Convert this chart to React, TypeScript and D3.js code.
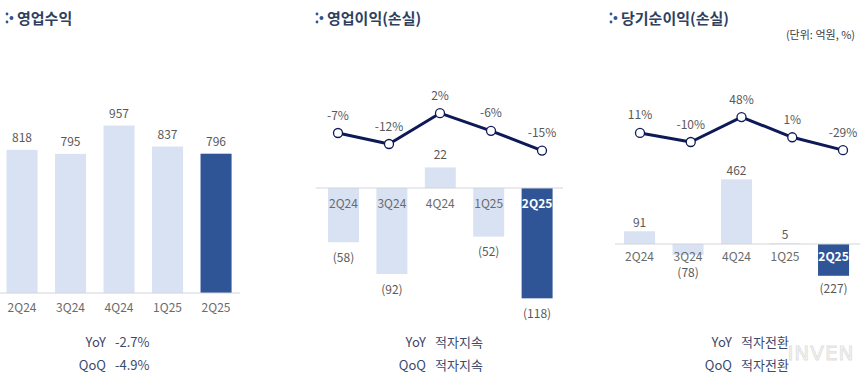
import React from "react";
import * as d3 from "d3";

const categories = ["2Q24", "3Q24", "4Q24", "1Q25", "2Q25"];
const revenue = [818, 795, 957, 837, 796];
const opIncome = [-58, -92, 22, -52, -118];
const opMargin = [-7, -12, 2, -6, -15];
const netIncome = [91, -78, 462, 5, -227];
const netMargin = [11, -10, 48, 1, -29];
const titles = ["영업수익", "영업이익(손실)", "당기순이익(손실)"];
const yoyLabels = ["-2.7%", "적자지속", "적자전환"];
const qoqLabels = ["-4.9%", "적자지속", "적자전환"];
const unitLabel = "(단위: 억원, %)";

const LIGHT = "#d9e2f3";
const DARK = "#2f5597";
const LINE = "#0e1a57";
const TXT = "#595959";
const TITLE = "#2f3f5f";
const SUB = "#3b4a6b";
const FONT = "'Noto Sans CJK KR', 'Noto Sans', sans-serif";

const fmt = (v: number) => (v < 0 ? `(${Math.abs(v)})` : `${v}`);

function Icon({ x, y }: { x: number; y: number }) {
  return (
    <g fill={DARK}>
      <circle cx={x} cy={y - 4} r={1.4} />
      <circle cx={x} cy={y + 4} r={1.4} />
      <circle cx={x + 4.5} cy={y} r={2} />
    </g>
  );
}

function Title({ x, text }: { x: number; text: string }) {
  return (
    <g>
      <Icon x={x - 10} y={18} />
      <text x={x} y={23.5} fontSize={15} fontWeight={700} fill={TITLE} fontFamily={FONT}>
        {text}
      </text>
    </g>
  );
}

function YoY({ x, yoy, qoq }: { x: number; yoy: string; qoq: string }) {
  return (
    <g fontFamily={FONT} fontSize={13} fill={SUB} fontWeight={400}>
      <text x={x} y={346.5} textAnchor="end">YoY</text>
      <text x={x + 9} y={346.5}>{yoy}</text>
      <text x={x} y={369.5} textAnchor="end">QoQ</text>
      <text x={x + 9} y={369.5}>{qoq}</text>
    </g>
  );
}

function BarPanel({
  values, range, yScale, lineRange, margins, lineScale, catInside, posOff, negOff, catBaseline, lineX,
}: any) {
  const x = d3.scaleBand().domain(categories).range(range).paddingInner(0.36).paddingOuter(0.18);
  const y0 = yScale(0);
  return (
    <g fontFamily={FONT}>
      {values.map((v: number, i: number) => {
        const c = categories[i];
        const top = Math.min(yScale(v), y0);
        const h = Math.abs(yScale(v) - y0);
        const last = i === values.length - 1;
        return (
          <rect key={c} x={x(c)} y={top} width={x.bandwidth()} height={h} fill={last ? DARK : LIGHT} />
        );
      })}
      <line x1={lineX[0]} x2={lineX[1]} y1={y0} y2={y0} stroke="#d0d4dc" strokeWidth={1} />
      {values.map((v: number, i: number) => {
        const c = categories[i];
        const cx = (x(c) as number) + x.bandwidth() / 2;
        const last = i === values.length - 1;
        const ly = v >= 0 ? yScale(v) - posOff : Math.max(yScale(v) + negOff, catBaseline + 16);
        return (
          <g key={c}>
            <text x={cx} y={ly} textAnchor="middle" fontSize={12} fill={TXT}>{fmt(v)}</text>
            <text
              x={cx}
              y={catBaseline}
              textAnchor="middle"
              fontSize={12}
              fill={last && catInside ? "#ffffff" : "#6b6b6b"}
              fontWeight={last && catInside ? 700 : 400}
            >
              {c}
            </text>
          </g>
        );
      })}
      {margins && (() => {
        const px = d3.scalePoint().domain(categories).range(lineRange);
        const line = d3.line<number>().x((_, i) => px(categories[i]) as number).y((d) => lineScale(d));
        return (
          <g>
            <path d={line(margins) as string} fill="none" stroke={LINE} strokeWidth={3} strokeLinejoin="round" />
            {margins.map((m: number, i: number) => (
              <g key={i}>
                <circle cx={px(categories[i])} cy={lineScale(m)} r={4.5} fill="#fff" stroke={LINE} strokeWidth={1.3} />
                <text x={px(categories[i])} y={lineScale(m) - 13.5} textAnchor="middle" fontSize={12} fill={TXT}>
                  {`${m}%`}
                </text>
              </g>
            ))}
          </g>
        );
      })()}
    </g>
  );
}

export default function App() {
  const y1 = d3.scaleLinear().domain([0, 1000]).range([293, 118]);
  const y2 = d3.scaleLinear().domain([-120, 30]).range([300.2, 159.95]);
  const l2 = d3.scaleLinear().domain([-20, 10]).range([161.6, 95.6]);
  const y3 = d3.scaleLinear().domain([-250, 500]).range([279, 174]);
  const l3 = d3.scaleLinear().domain([-40, 60]).range([154.9, 111.9]);
  return (
    <svg width={860} height={381} style={{ position: "absolute", left: 0, top: 0, background: "#fff" }}>
      <rect width={860} height={381} fill="#fff" />
      <Title x={17} text={titles[0]} />
      <Title x={327} text={titles[1]} />
      <Title x={621} text={titles[2]} />
      <text x={855} y={39} textAnchor="end" fontSize={11} fill="#404040" fontFamily={FONT}>{unitLabel}</text>

      <text x={821} y={360} textAnchor="middle" fontSize={20} fontFamily="'DejaVu Sans', sans-serif"
        fill="#f5f5f5" stroke="#e0e0e0" strokeWidth={0.8} letterSpacing={1}>INVEN</text>

      <BarPanel values={revenue} range={[-2.2, 240.3]} yScale={y1} posOff={8} negOff={17} catBaseline={311.5} lineX={[0, 240]} />
      <BarPanel
        values={opIncome} range={[319.3, 561.3]} yScale={y2} posOff={8} negOff={19.5} catBaseline={207.5}
        catInside margins={opMargin} lineRange={[338, 542]} lineScale={l2} lineX={[316, 563]}
      />
      <BarPanel
        values={netIncome} range={[615.3, 857.8]} yScale={y3} posOff={4} negOff={17.5} catBaseline={260.5}
        catInside margins={netMargin} lineRange={[640, 843]} lineScale={l3} lineX={[615, 860]}
      />

      <YoY x={106} yoy={yoyLabels[0]} qoq={qoqLabels[0]} />
      <YoY x={426} yoy={yoyLabels[1]} qoq={qoqLabels[1]} />
      <YoY x={732} yoy={yoyLabels[2]} qoq={qoqLabels[2]} />
    </svg>
  );
}
